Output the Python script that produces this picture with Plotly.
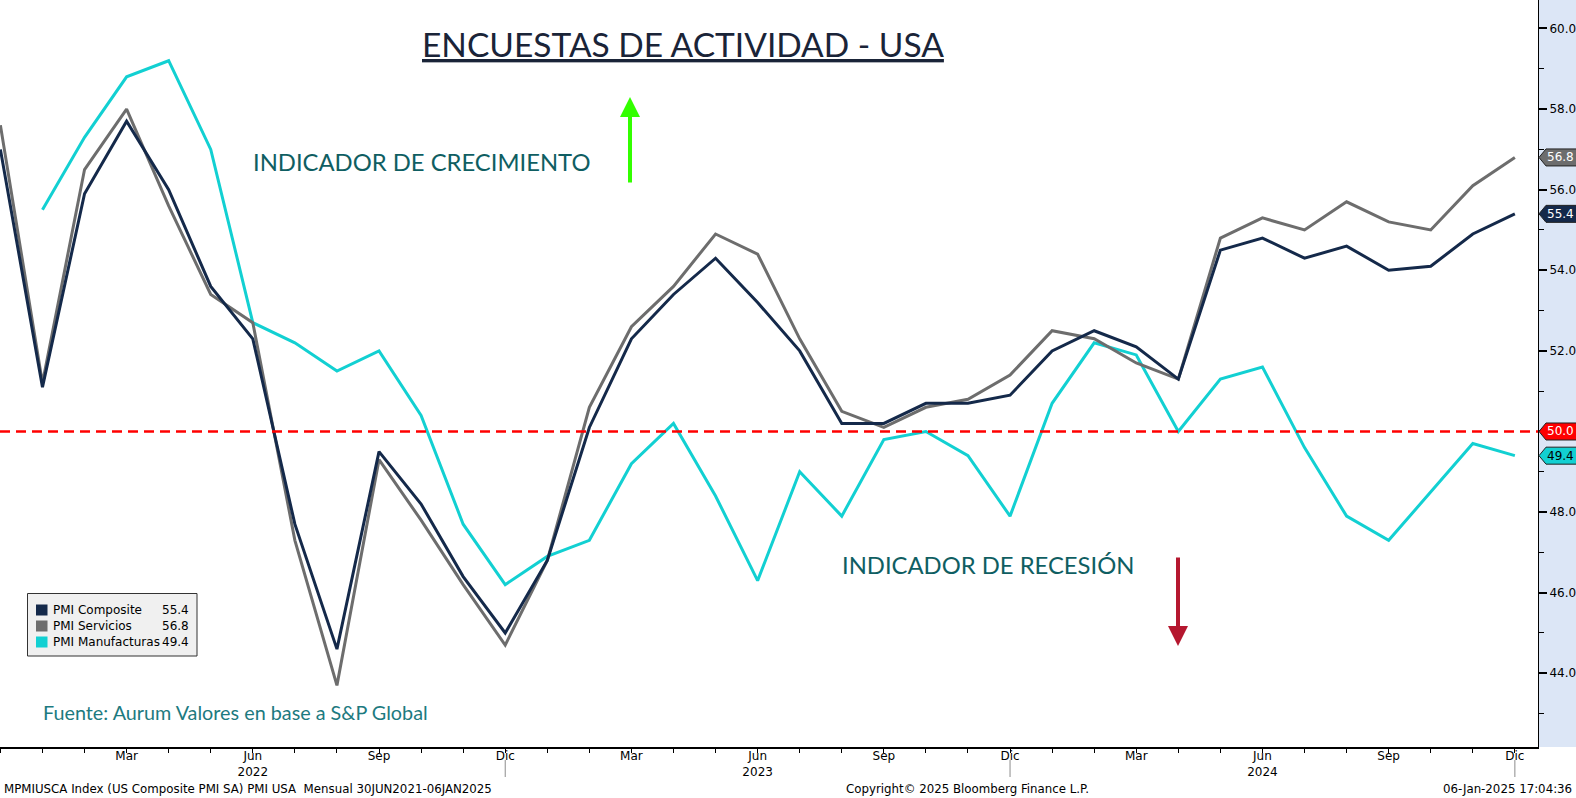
import plotly.graph_objects as go

# ---------------- data ----------------
months = ["2021-12"] + [f"{y}-{m:02d}" for y in (2022, 2023, 2024) for m in range(1, 13)]

pmi_composite = [57.0,
                 51.1, 55.9, 57.7, 56.0, 53.6, 52.3, 47.7, 44.6, 49.5, 48.2, 46.4, 45.0,
                 46.8, 50.1, 52.3, 53.4, 54.3, 53.2, 52.0, 50.2, 50.2, 50.7, 50.7, 50.9,
                 52.0, 52.5, 52.1, 51.3, 54.5, 54.8, 54.3, 54.6, 54.0, 54.1, 54.9, 55.4]
pmi_servicios = [57.6,
                 51.2, 56.5, 58.0, 55.6, 53.4, 52.7, 47.3, 43.7, 49.3, 47.8, 46.2, 44.7,
                 46.8, 50.6, 52.6, 53.6, 54.9, 54.4, 52.3, 50.5, 50.1, 50.6, 50.8, 51.4,
                 52.5, 52.3, 51.7, 51.3, 54.8, 55.3, 55.0, 55.7, 55.2, 55.0, 56.1, 56.8]
pmi_manufacturas = [None,
                    55.5, 57.3, 58.8, 59.2, 57.0, 52.7, 52.2, 51.5, 52.0, 50.4, 47.7, 46.2,
                    46.9, 47.3, 49.2, 50.2, 48.4, 46.3, 49.0, 47.9, 49.8, 50.0, 49.4, 47.9,
                    50.7, 52.2, 51.9, 50.0, 51.3, 51.6, 49.6, 47.9, 47.3, 48.5, 49.7, 49.4]

series_names = ["PMI Composite", "PMI Servicios", "PMI Manufacturas"]
series_colors = ["#14294a", "#6d6d6d", "#12d0d2"]
threshold = 50.0

month_labels = {3: "Mar", 6: "Jun", 9: "Sep", 12: "Dic"}

# ---------------- geometry helpers (pixels -> paper) ----------------
W, H = 1576, 798
ML, MR, MT, MB = 0, 38, 0, 51
PW, PH = W - ML - MR, H - MT - MB


def px(x):
    return (x - ML) / PW


def py(y):
    return 1 - (y - MT) / PH


fig = go.Figure()

all_series = [pmi_manufacturas, pmi_servicios, pmi_composite]
all_colors = [series_colors[2], series_colors[1], series_colors[0]]
all_names = [series_names[2], series_names[1], series_names[0]]
for vals, col, nm in zip(all_series, all_colors, all_names):
    fig.add_trace(go.Scatter(x=months, y=vals, mode="lines", name=nm,
                             line=dict(color=col, width=3), showlegend=False,
                             hoverinfo="skip"))

# tick labels
tickvals, ticktext = [], []
for mstr in months:
    y, m = int(mstr[:4]), int(mstr[5:])
    tickvals.append(mstr)
    if mstr == months[0]:
        ticktext.append("")
    elif m == 6:
        ticktext.append(f"Jun<br>{y}")
    else:
        ticktext.append(month_labels.get(m, ""))

fig.update_layout(
    width=W, height=H, autosize=False,
    margin=dict(l=ML, r=MR, t=MT, b=MB, pad=0),
    paper_bgcolor="white", plot_bgcolor="white",
    showlegend=False,
    xaxis=dict(type="category", categoryorder="array", categoryarray=months,
               range=[-0.0095, 36.55], tickvals=tickvals, ticktext=ticktext,
               ticks="outside", ticklen=4, tickcolor="black", tickwidth=1,
               ticklabelstandoff=-7,
               showline=True, linecolor="black", linewidth=1.5,
               showgrid=False, zeroline=False, automargin=False,
               tickfont=dict(family="DejaVu Sans", size=12, color="black")),
    yaxis=dict(side="right", range=[42.171, 60.707], tick0=44, dtick=2,
               tickformat=".1f", ticks="outside", ticklen=8, tickwidth=2,
               tickcolor="black", showline=True, linecolor="black", linewidth=1,
               showgrid=False, zeroline=False, automargin=False,
               minor=dict(dtick=1, tick0=43, ticks="outside", ticklen=5,
                          tickcolor="black", tickwidth=1),
               tickfont=dict(family="DejaVu Sans", size=12, color="black")),
)

shapes = []
# right axis strip
shapes.append(dict(type="rect", xref="paper", yref="paper", x0=1, x1=1 + MR / PW,
                   y0=0, y1=1, fillcolor="#dce6f6", line=dict(width=0), layer="below"))
# threshold dashed line
shapes.append(dict(type="line", xref="paper", yref="y", x0=0, x1=1, y0=threshold,
                   y1=threshold, line=dict(color="#ff0000", width=2.5, dash="10px,6px"),
                   layer="above"))
# long year-separator ticks under "Dic"
for mstr in ("2022-12", "2023-12", "2024-12"):
    shapes.append(dict(type="line", xref="x", yref="paper", x0=mstr, x1=mstr,
                       y0=py(760), y1=py(777), line=dict(color="#8c8c8c", width=1)))

# value tags on the right axis
tags = [(pmi_servicios[-1], "#6d6d6d", "white"),
        (pmi_composite[-1], "#14294a", "white"),
        (threshold, "#ff0000", "white"),
        (pmi_manufacturas[-1], "#12d0d2", "black")]
annotations = []
for val, fill, tcol in tags:
    shapes.append(dict(type="path", xref="paper", yref="y", xsizemode="pixel",
                       ysizemode="pixel", xanchor=1, yanchor=val,
                       path="M 1,0 L 8,8.5 L 40,8.5 L 40,-8.5 L 8,-8.5 Z",
                       fillcolor=fill, line=dict(color="#222222", width=1)))
    annotations.append(dict(xref="paper", yref="y", x=1, y=val, xshift=22,
                            text=f"{val:.1f}", showarrow=False, xanchor="center",
                            yanchor="middle",
                            font=dict(family="DejaVu Sans", size=12, color=tcol)))

# legend box
shapes.append(dict(type="rect", xref="paper", yref="paper", x0=px(27.5), x1=px(197),
                   y0=py(593.5), y1=py(656), fillcolor="#f0f0f0",
                   line=dict(color="#333333", width=1)))
legend_vals = [pmi_composite[-1], pmi_servicios[-1], pmi_manufacturas[-1]]
for i, (nm, col, v) in enumerate(zip(series_names, series_colors, legend_vals)):
    yc = 610 + 16 * i
    shapes.append(dict(type="rect", xref="paper", yref="paper", x0=px(36), x1=px(47.5),
                       y0=py(yc + 5.5), y1=py(yc - 5.5), fillcolor=col,
                       line=dict(width=0)))
    annotations.append(dict(xref="paper", yref="paper", x=px(51), y=py(yc), text=nm,
                            showarrow=False, xanchor="left", yanchor="middle",
                            font=dict(family="DejaVu Sans", size=12, color="black")))
    annotations.append(dict(xref="paper", yref="paper", x=px(191), y=py(yc),
                            text=f"{v:.1f}", showarrow=False, xanchor="right",
                            yanchor="middle",
                            font=dict(family="DejaVu Sans", size=12, color="black")))

# title and text annotations
annotations.append(dict(xref="paper", yref="paper", x=px(683), y=py(44),
                        text="<u>ENCUESTAS DE ACTIVIDAD - USA</u>", showarrow=False,
                        xanchor="center", yanchor="middle",
                        font=dict(family="Lato", size=33.5, color="#1a2438")))
annotations.append(dict(xref="paper", yref="paper", x=px(251), y=py(162),
                        text="INDICADOR DE CRECIMIENTO", showarrow=False,
                        xanchor="left", yanchor="middle",
                        font=dict(family="Lato", size=23.8, color="#0f5e62")))
annotations.append(dict(xref="paper", yref="paper", x=px(840), y=py(565),
                        text="INDICADOR DE RECESIÓN", showarrow=False,
                        xanchor="left", yanchor="middle",
                        font=dict(family="Lato", size=23.8, color="#0f5e62")))
annotations.append(dict(xref="paper", yref="paper", x=px(41), y=py(712),
                        text="Fuente: Aurum Valores en base a S&P Global", showarrow=False,
                        xanchor="left", yanchor="middle",
                        font=dict(family="Lato", size=19.8, color="#1d7a80")))
# arrows
annotations.append(dict(xref="paper", yref="paper", x=px(630), y=py(97), text="",
                        showarrow=True, axref="pixel", ayref="pixel", ax=0, ay=87,
                        arrowhead=2, arrowsize=1, arrowwidth=4, arrowcolor="#33ff00"))
annotations.append(dict(xref="paper", yref="paper", x=px(1178), y=py(646), text="",
                        showarrow=True, axref="pixel", ayref="pixel", ax=0, ay=-90,
                        arrowhead=2, arrowsize=1, arrowwidth=4, arrowcolor="#b5172f"))
# footer
foot_font = dict(family="DejaVu Sans", size=11.8, color="black")
annotations.append(dict(xref="paper", yref="paper", x=px(2), y=py(789),
                        text="MPMIUSCA Index (US Composite PMI SA) PMI USA  Mensual 30JUN2021-06JAN2025",
                        showarrow=False, xanchor="left", yanchor="middle", font=foot_font))
annotations.append(dict(xref="paper", yref="paper", x=px(967), y=py(789),
                        text="Copyright© 2025 Bloomberg Finance L.P.",
                        showarrow=False, xanchor="center", yanchor="middle", font=foot_font))
annotations.append(dict(xref="paper", yref="paper", x=px(1574), y=py(789),
                        text="06-Jan-2025 17:04:36",
                        showarrow=False, xanchor="right", yanchor="middle", font=foot_font))

fig.update_layout(shapes=shapes, annotations=annotations)
fig.write_html("out.html", config={"displayModeBar": False},
               post_script="document.body.style.margin='0';document.body.style.overflow='hidden';")
